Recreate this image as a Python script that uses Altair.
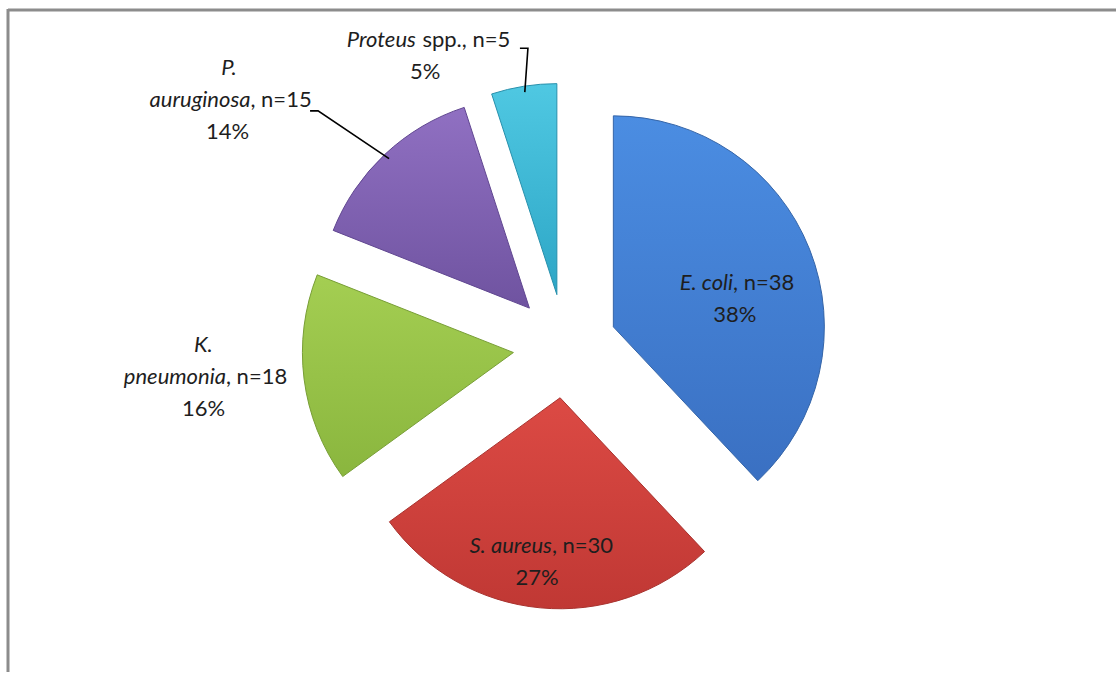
import math
import altair as alt
import pandas as pd

# ---------------- data ----------------
species = ["E. coli", "S. aureus", "K. pneumonia", "P. auruginosa", "Proteus"]
counts = [38, 30, 18, 15, 5]
percents = [38, 27, 16, 14, 5]
name_extra = ["", "", "", "", "spp."]

# ---------------- style ----------------
col_top = ["#4B8DE2", "#DC4A44", "#A4CE52", "#9070C2", "#4FC8E2"]
col_bot = ["#3A70C2", "#C03834", "#8AB63E", "#6F53A0", "#2DA6C6"]
col_edge = ["#3565A8", "#A8322E", "#789E36", "#604690", "#2890AC"]

W, H = 1116, 672
CX, CY = 565, 346
R = 211
EXPLODE = 52
FONT = "Lato"
FS = 22
LINE_H = 32
SPACE = 0.3 * FS
label_r = [176, 218, 363, 418, 322]
label_dang = [6, 2, 2.3, -10.7, -16.8]
wrap_name = [False, False, True, True, False]
leader_elbow = [None, None, None, (341, 313.6), (300, 352.9)]

# ---------------- geometry from data ----------------
total = float(sum(percents))
rows = []
acc = 0.0
for i, sp in enumerate(species):
    t0 = acc / total * 2 * math.pi
    acc += percents[i]
    t1 = acc / total * 2 * math.pi
    mid = (t0 + t1) / 2
    rows.append(dict(species=sp, t0=t0, t1=t1, mid=mid,
                     cx=CX + EXPLODE * math.sin(mid),
                     cy=CY - EXPLODE * math.cos(mid)))
slices = pd.DataFrame(rows)


def tw(s, fs):
    w = 0.0
    for ch in s:
        if ch == " ":
            w += 0.22
        elif ch in ".,":
            w += 0.23
        elif ch in "ilj":
            w += 0.23
        elif ch == "f":
            w += 0.31
        elif ch == "t":
            w += 0.34
        elif ch == "r":
            w += 0.36
        elif ch == "m":
            w += 0.84
        elif ch == "w":
            w += 0.75
        elif ch.isdigit() or ch == "=":
            w += 0.58
        elif ch == "%":
            w += 0.78
        elif ch.isupper():
            w += 0.62
        else:
            w += 0.53
    return w * fs


lines = []
for i, sp in enumerate(species):
    a = rows[i]["mid"] + math.radians(label_dang[i])
    bx = CX + label_r[i] * math.sin(a)
    by = CY - label_r[i] * math.cos(a)
    parts = []
    suffix = f"{name_extra[i]}, n={counts[i]}"
    gap = SPACE if name_extra[i] else 0.0
    if wrap_name[i]:
        first, rest = sp.split(" ", 1)
        parts.append((first, "", 0.0))
        parts.append((rest, suffix, gap))
    else:
        parts.append((sp, suffix, gap))
    parts.append(("", f"{percents[i]}%", 0.0))
    n = len(parts)
    for k, (it, no, g) in enumerate(parts):
        wi, wn = tw(it, FS), tw(no, FS) + g
        split = bx + (wi - wn) / 2
        y = by + (k - (n - 1) / 2) * LINE_H
        lines.append(dict(ital=it, norm=no, x=split, xn=split + g, y=y))
lines = pd.DataFrame(lines)

leaders = []
for i, el in enumerate(leader_elbow):
    if el is None:
        continue
    mid = rows[i]["mid"]
    p0 = (rows[i]["cx"] + (R - 6) * math.sin(mid), rows[i]["cy"] - (R - 6) * math.cos(mid))
    ang = math.radians(el[1])
    p1 = (CX + el[0] * math.sin(ang), CY - el[0] * math.cos(ang))
    p2 = (p1[0] - 8, p1[1])
    for k, p in enumerate([p0, p1, p2]):
        leaders.append(dict(id=species[i], ord=k, x=p[0], y=p[1]))
leaders = pd.DataFrame(leaders)

# ---------------- chart ----------------
X = lambda f: alt.X(f, type="quantitative", scale=None, axis=None)
Y = lambda f: alt.Y(f, type="quantitative", scale=None, axis=None)

layers = []
one = pd.DataFrame({"k": [0]})
layers.append(alt.Chart(one).mark_rule(color="#8C8C8C", strokeWidth=3).encode(
    x=alt.value(8), y=alt.value(9), y2=alt.value(H)))
layers.append(alt.Chart(one).mark_rule(color="#8C8C8C", strokeWidth=3).encode(
    x=alt.value(8), x2=alt.value(W), y=alt.value(10)))

for i, sp in enumerate(species):
    grad = alt.Gradient(
        gradient="linear", x1=0, x2=0, y1=0, y2=1,
        stops=[alt.GradientStop(color=col_top[i], offset=0),
               alt.GradientStop(color=col_bot[i], offset=1)])
    layers.append(
        alt.Chart(slices).transform_filter(alt.datum.species == sp)
        .mark_arc(radius=R, fill=grad, stroke=col_edge[i], strokeWidth=1)
        .encode(x=X("cx"), y=Y("cy"),
                theta=alt.Theta("t0:Q", scale=None, stack=None),
                theta2="t1:Q")
    )

layers.append(alt.Chart(leaders).mark_line(color="#000000", strokeWidth=1.6).encode(
    x=X("x"), y=Y("y"), detail="id:N", order="ord:Q"))

layers.append(alt.Chart(lines).mark_text(
    align="right", baseline="middle", font=FONT, fontSize=FS, fontStyle="italic",
    color="#1E1E1E").encode(x=X("x"), y=Y("y"), text="ital:N"))
layers.append(alt.Chart(lines).mark_text(
    align="left", baseline="middle", font=FONT, fontSize=FS,
    color="#1E1E1E").encode(x=X("xn"), y=Y("y"), text="norm:N"))

chart = alt.layer(*layers).properties(
    width=W, height=H, autosize=alt.AutoSizeParams(type="none"), padding=0,
    background="white"
).configure_view(stroke=None)

chart.save("out.html", embed_options={"renderer": "svg", "actions": False})
